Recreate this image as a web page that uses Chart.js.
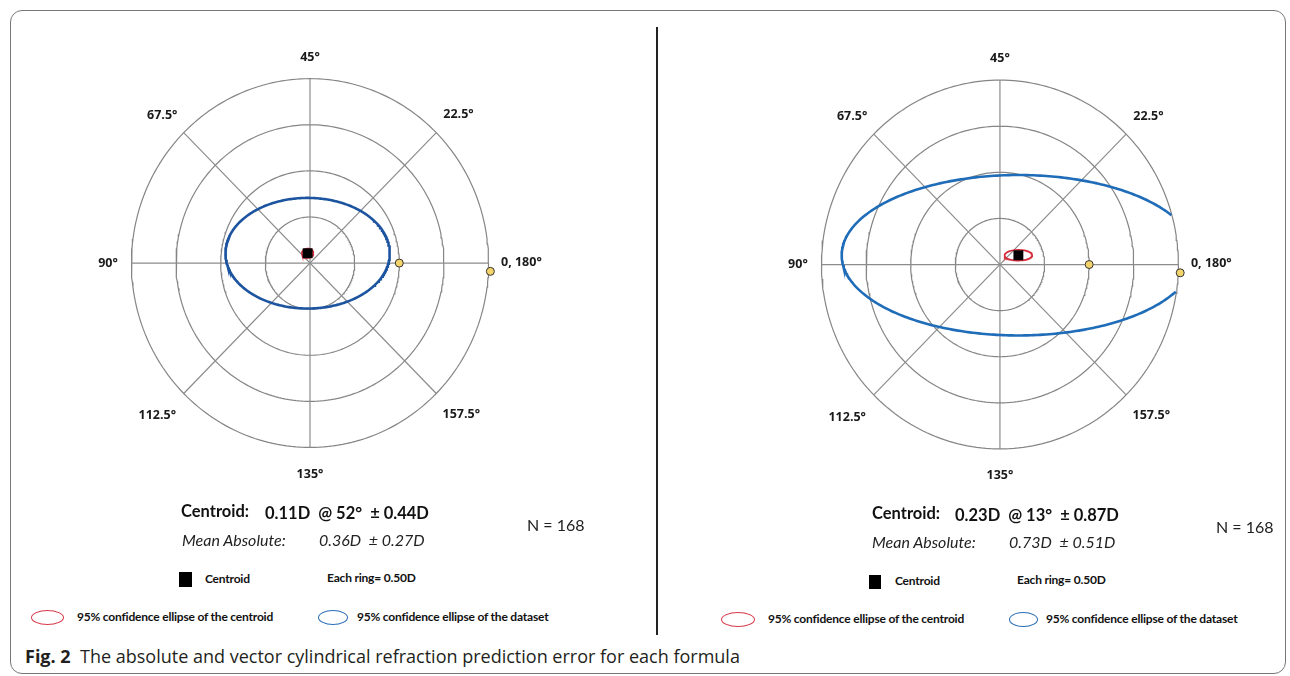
<!DOCTYPE html>
<html>
<head>
<meta charset="utf-8">
<script src="https://cdn.jsdelivr.net/npm/chart.js@4.4.1/dist/chart.umd.min.js"></script>
<style>
html,body{margin:0;padding:0;background:#fff;}
#page{position:relative;width:1290px;height:676px;overflow:hidden;font-family:Lato,"Noto Sans",sans-serif;color:#111;}
.frame{position:absolute;left:10px;top:10px;width:1276px;height:664px;border:1px solid #777;border-radius:12px;box-sizing:border-box;}
.divider{position:absolute;left:656px;top:27px;width:1.6px;height:608px;background:#222;}
canvas{position:absolute;}
.t{position:absolute;white-space:nowrap;transform:translateY(-50%);line-height:1;}
.big{font-size:16.5px;font-weight:700;color:#111;}
.ital{font-size:16px;font-style:italic;color:#222;}
.nn{font-size:16px;color:#222;}
.leg{font-size:12px;font-weight:700;letter-spacing:-0.2px;color:#111;}
.sq{position:absolute;background:#000;}
.ell{position:absolute;border-radius:50%;box-sizing:border-box;}
.cap{position:absolute;left:25px;top:656px;transform:translateY(-50%);white-space:nowrap;font-family:"Open Sans",sans-serif;font-size:18px;color:#231f20;line-height:1;}
.cap b{font-weight:700;}
</style>
</head>
<body>
<div id="page">
  <div class="frame"></div>
  <div class="divider"></div>
  <canvas id="c0"></canvas>
  <canvas id="c1"></canvas>
  <div class="cap"><b>Fig. 2</b>&nbsp; The absolute and vector cylindrical refraction prediction error for each formula</div>
</div>
<script>
// ---------------- data ----------------
const angleLabels     = ['0, 180°', '22.5°', '45°', '67.5°', '90°', '112.5°', '135°', '157.5°'];
const labelPlotAngles = [0, 45, 90, 135, 180, 225, 270, 315];   // doubled-angle position
const ringRadii       = [0.5, 1.0, 1.5, 2.0];                   // dioptres
const spokeAngles     = [0, 45, 90, 135];
const ringStep        = 0.50;

const centroidMag  = [0.11, 0.23];   // D
const centroidAxis = [52, 13];       // degrees
const centroidSD   = [0.44, 0.87];   // D
const meanAbs      = [0.36, 0.73];   // D
const meanAbsSD    = [0.27, 0.51];   // D
const sampleN      = [168, 168];

const dataEllipseA = [0.92, 1.98];   // 95% confidence ellipse of the dataset (semi-axes, D)
const dataEllipseB = [0.60, 0.87];
const centEllipseA = [0.065, 0.155]; // 95% confidence ellipse of the centroid
const centEllipseB = [0.05, 0.058];

const refPointsX = [1.0, 2.02];
const refPointsY = [0.0, -0.09];

// ---------------- layout (positions / styles only) ----------------
const layout = [
  { cx: 309.5, cy: 263, left: 40, top: 28, w: 580, h: 475, sx: 91.5, sy: 95, blue: '#1c54a0',
    c1: [181, 511], c2: [265, 513], n: [527, 525], m1: [182, 540], m2: [319, 540],
    sq: [179, 572, 13, 15], sqT: [205, 579], ring: [327, 578],
    rl: [31, 617, 33, 15], rlT: [77, 617], bl: [318, 617, 30, 15], blT: [357, 617] },
  { cx: 1000, cy: 264.5, left: 715, top: 28, w: 565, h: 475, sx: 91.5, sy: 95, blue: '#1f6cb8',
    c1: [872, 513], c2: [955, 515], n: [1216, 527], m1: [872, 542], m2: [1009, 542],
    sq: [869, 575, 12, 14], sqT: [895, 581], ring: [1017, 580],
    rl: [721, 619, 34, 15], rlT: [768, 619], bl: [1009, 619, 29, 15], blT: [1046, 619] }
];
const labelRadiusPx = [191, 210, 206, 209, 202, 216, 211, 214];

// ---------------- helpers ----------------
const rad = d => d * Math.PI / 180;
const maxRing = Math.max(...ringRadii);

function circlePts(r) {
  const pts = [];
  for (let i = 0; i <= 240; i++) {
    const t = 2 * Math.PI * i / 240;
    pts.push({ x: r * Math.cos(t), y: r * Math.sin(t) });
  }
  return pts;
}
function ellipsePts(cx, cy, a, b, clipR) {
  const pts = [];
  for (let i = 0; i <= 360; i++) {
    const t = Math.PI + 2 * Math.PI * i / 360;
    const x = cx + a * Math.cos(t), y = cy + b * Math.sin(t);
    if (clipR && Math.hypot(x, y) > clipR) pts.push({ x: null, y: null });
    else pts.push({ x, y });
  }
  return pts;
}

const labelPlugin = {
  id: 'angleLabels',
  afterDraw(chart) {
    const ctx = chart.ctx;
    const px = chart.scales.x.getPixelForValue(0);
    const py = chart.scales.y.getPixelForValue(0);
    ctx.save();
    ctx.font = '700 12.5px "Open Sans"';
    ctx.fillStyle = '#1a1a1a';
    ctx.textBaseline = 'middle';
    angleLabels.forEach((lab, i) => {
      const a = rad(labelPlotAngles[i]);
      const R = labelRadiusPx[i];
      let x, y;
      if (i === 0) { ctx.textAlign = 'left'; x = px + R; y = py - 1; }
      else { ctx.textAlign = 'center'; x = px + R * Math.cos(a); y = py - R * Math.sin(a); }
      ctx.fillText(lab, x, y);
    });
    ctx.restore();
  }
};

const page = document.getElementById('page');
function addText(cls, pos, html) {
  const d = document.createElement('div');
  d.className = 't ' + cls;
  d.style.left = pos[0] + 'px';
  d.style.top = pos[1] + 'px';
  d.innerHTML = html;
  page.appendChild(d);
}
function addBox(cls, r, style) {
  const d = document.createElement('div');
  d.className = cls;
  d.style.left = r[0] + 'px';
  d.style.top = (cls === 'sq' ? r[1] : r[1] - r[3] / 2) + 'px';
  d.style.width = r[2] + 'px';
  d.style.height = r[3] + 'px';
  Object.assign(d.style, style || {});
  page.appendChild(d);
}

layout.forEach((L, k) => {
  const cv = document.getElementById('c' + k);
  cv.width = L.w; cv.height = L.h;
  cv.style.left = L.left + 'px'; cv.style.top = L.top + 'px';
  cv.style.width = L.w + 'px'; cv.style.height = L.h + 'px';

  const cAng = rad(2 * centroidAxis[k]);
  const ccx = centroidMag[k] * Math.cos(cAng);
  const ccy = centroidMag[k] * Math.sin(cAng);

  const datasets = [];
  datasets.push({ data: [{ x: ccx, y: ccy }], showLine: false, pointStyle: 'rect',
    pointRadius: 7, backgroundColor: '#000', borderColor: '#000', borderWidth: 0 });
  datasets.push({ data: ellipsePts(ccx, ccy, centEllipseA[k], centEllipseB[k]), showLine: true,
    pointRadius: 0, borderColor: '#d42a3a', borderWidth: 1.6 });
  datasets.push({ data: refPointsX.map((x, i) => ({ x, y: refPointsY[i] })), showLine: false,
    pointStyle: 'circle', pointRadius: 4, backgroundColor: '#f2d46a', borderColor: '#333', borderWidth: 1 });
  datasets.push({ data: ellipsePts(ccx, ccy, dataEllipseA[k], dataEllipseB[k], maxRing), showLine: true,
    pointRadius: 0, borderColor: L.blue, borderWidth: 2.6, spanGaps: false });
  spokeAngles.forEach(a => {
    const r = maxRing, t = rad(a);
    datasets.push({ data: [{ x: -r * Math.cos(t), y: -r * Math.sin(t) }, { x: r * Math.cos(t), y: r * Math.sin(t) }],
      showLine: true, pointRadius: 0, borderColor: '#8c8c8c', borderWidth: 1.2 });
  });
  ringRadii.forEach(r => {
    datasets.push({ data: circlePts(r), showLine: true, pointRadius: 0, borderColor: '#858585', borderWidth: 1.2 });
  });

  new Chart(cv, {
    type: 'scatter',
    data: { datasets },
    options: {
      responsive: false, animation: false, events: [],
      layout: { padding: 0 },
      plugins: { legend: { display: false }, tooltip: { enabled: false } },
      scales: {
        x: { type: 'linear', display: false, min: -(L.cx - L.left) / L.sx, max: (L.left + L.w - L.cx) / L.sx },
        y: { type: 'linear', display: false, min: -(L.top + L.h - L.cy) / L.sy, max: (L.cy - L.top) / L.sy }
      }
    },
    plugins: [labelPlugin]
  });

  // text block
  addText('big', L.c1, 'Centroid:');
  addText('big', L.c2, centroidMag[k].toFixed(2) + 'D &nbsp;@ ' + centroidAxis[k] + '° &nbsp;± ' + centroidSD[k].toFixed(2) + 'D');
  addText('nn', L.n, 'N = ' + sampleN[k]);
  addText('ital', L.m1, 'Mean Absolute:');
  addText('ital', L.m2, meanAbs[k].toFixed(2) + 'D &nbsp;± ' + meanAbsSD[k].toFixed(2) + 'D');
  addBox('sq', L.sq);
  addText('leg', L.sqT, 'Centroid');
  addText('leg', L.ring, 'Each ring= ' + ringStep.toFixed(2) + 'D');
  addBox('ell', L.rl, { border: '1.6px solid #d83a4a' });
  addText('leg', L.rlT, '95% confidence ellipse of the centroid');
  addBox('ell', L.bl, { border: '1.6px solid #2a6db5' });
  addText('leg', L.blT, '95% confidence ellipse of the dataset');
});
</script>
</body>
</html>
